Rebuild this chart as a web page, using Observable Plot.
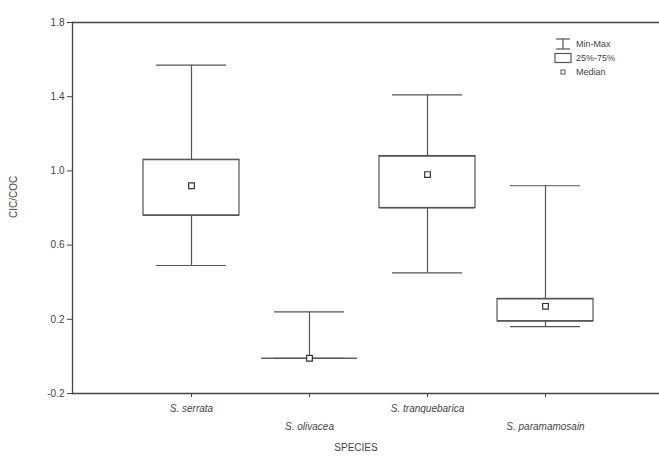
<!DOCTYPE html>
<html>
<head>
<meta charset="utf-8">
<script src="https://cdn.jsdelivr.net/npm/d3@7"></script>
<script src="https://cdn.jsdelivr.net/npm/@observablehq/plot@0.6"></script>
<style>
  html, body { margin: 0; padding: 0; background: #fff; }
  #chart { width: 659px; height: 457px; overflow: hidden; }
  svg { font-family: "Liberation Sans", Arial, sans-serif; }
</style>
</head>
<body>
<div id="chart"></div>
<script>
const species = ["S. serrata", "S. olivacea", "S. tranquebarica", "S. paramamosain"];
const minVals    = [0.49, -0.01, 0.45, 0.16];
const q1Vals     = [0.76, -0.01, 0.80, 0.19];
const medianVals = [0.92, -0.01, 0.98, 0.27];
const q3Vals     = [1.06, -0.01, 1.08, 0.31];
const maxVals    = [1.57, 0.24, 1.41, 0.92];
const yTicks = [-0.2, 0.2, 0.6, 1.0, 1.4, 1.8];
const legendLabels = ["Min-Max", "25%-75%", "Median"];

const data = species.map((s, i) => ({
  species: s, min: minVals[i], q1: q1Vals[i], median: medianVals[i], q3: q3Vals[i], max: maxVals[i]
}));

const ink = "#555";
const frameInk = "#444";
const textInk = "#444";

const plot = Plot.plot({
  width: 659,
  height: 457,
  marginLeft: 72,
  marginRight: 0,
  marginTop: 22,
  marginBottom: 64,
  style: { background: "#fff", color: textInk, fontSize: "10px", fontFamily: "Liberation Sans, Arial, sans-serif" },
  x: { type: "band", domain: species, range: [119, 617], padding: 0.19, axis: null },
  y: { domain: [-0.2, 1.8], axis: null },
  marks: [
    // frame: left, top, bottom
    Plot.frame({ anchor: "left", stroke: frameInk, strokeWidth: 1.3 }),
    Plot.ruleY([-0.2, 1.8], { stroke: frameInk, strokeWidth: 1.3 }),
    // whiskers
    Plot.ruleX(data, { x: "species", y1: "min", y2: "max", stroke: ink, strokeWidth: 1.2 }),
    Plot.tickY(data, { x: "species", y: "min", insetLeft: 13, insetRight: 13, stroke: ink, strokeWidth: 1.2 }),
    Plot.tickY(data, { x: "species", y: "max", insetLeft: 13, insetRight: 13, stroke: ink, strokeWidth: 1.2 }),
    // boxes
    Plot.barY(data, { x: "species", y1: "q1", y2: "q3", fill: "white", stroke: ink, strokeWidth: 1.2 }),
    Plot.tickY(data, { x: "species", y: "q1", stroke: ink, strokeWidth: 1.2 }),
    Plot.tickY(data, { x: "species", y: "q3", stroke: ink, strokeWidth: 1.2 }),
    // medians
    Plot.dot(data, { x: "species", y: "median", symbol: "square", r: 3.2, fill: "white", stroke: "#333", strokeWidth: 1.2 }),
    // axes
    Plot.axisY({ ticks: yTicks, tickFormat: d => d.toFixed(1), tickSize: 5, tickPadding: 3, fontSize: 10, stroke: frameInk, fill: textInk }),
    Plot.axisX({ ticks: [species[0], species[2]], tickSize: 4, tickPadding: 7, fontStyle: "italic", fontSize: 10, label: null, stroke: frameInk, fill: textInk }),
    Plot.axisX({ ticks: [species[1], species[3]], tickSize: 4, tickPadding: 25, fontStyle: "italic", fontSize: 10, label: null, stroke: frameInk, fill: textInk }),
    Plot.text(["SPECIES"], { frameAnchor: "bottom", dx: -10, dy: 57, fontSize: 10, fill: textInk }),
    Plot.text(["CIC/COC"], { frameAnchor: "left", rotate: -90, dx: -59, dy: 10, fontSize: 10, fill: textInk })
  ]
});

document.getElementById("chart").appendChild(plot);

// legend (inside plot area, top right)
const svg = d3.select(plot);
const g = svg.append("g").attr("stroke", ink).attr("stroke-width", 1.2).attr("fill", "none");
const lx = 563, rows = [44, 58, 72];
// min-max symbol
g.append("line").attr("x1", lx - 7).attr("x2", lx + 7).attr("y1", rows[0] - 5).attr("y2", rows[0] - 5);
g.append("line").attr("x1", lx - 7).attr("x2", lx + 7).attr("y1", rows[0] + 5).attr("y2", rows[0] + 5);
g.append("line").attr("x1", lx).attr("x2", lx).attr("y1", rows[0] - 5).attr("y2", rows[0] + 5);
// box symbol
g.append("rect").attr("x", lx - 8).attr("y", rows[1] - 4.5).attr("width", 16).attr("height", 9).attr("fill", "white");
// median symbol
g.append("rect").attr("x", lx - 2).attr("y", rows[2] - 2).attr("width", 4).attr("height", 4).attr("fill", "white").attr("stroke-width", 1);
svg.append("g").attr("text-anchor", "start").selectAll("text").data(legendLabels).join("text")
  .attr("x", lx + 13).attr("y", (d, i) => rows[i]).attr("dy", "0.35em")
  .attr("text-anchor", "start")
  .attr("fill", textInk).attr("font-size", 9).text(d => d);
</script>
</body>
</html>
